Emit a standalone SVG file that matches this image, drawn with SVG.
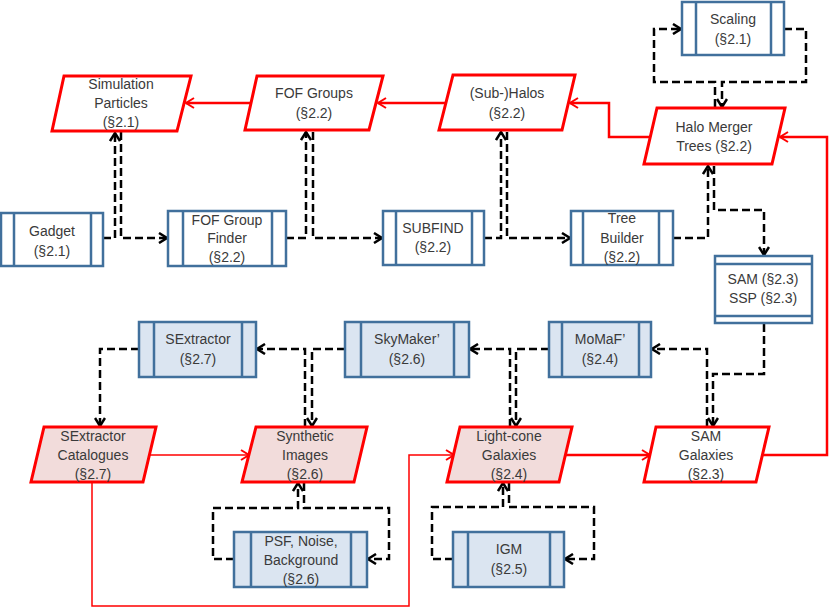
<svg xmlns="http://www.w3.org/2000/svg" width="830" height="609" viewBox="0 0 830 609">
<style>
.bx{fill:#fff;stroke:#41709c;stroke-width:2.5}
.bb{fill:#dbe5f1;stroke:#41709c;stroke-width:2.5}
.in{fill:none;stroke:#41709c;stroke-width:2.5}
.pw{fill:#fff;stroke:#ff0000;stroke-width:3}
.pp{fill:#f2dcdb;stroke:#ff0000;stroke-width:3}
text{font-family:"Liberation Sans",Arial,sans-serif;font-size:14px;fill:#3a3a3a;text-anchor:middle}
.d{fill:none;stroke:#000;stroke-width:2.5;stroke-dasharray:8,4}
.r{fill:none;stroke:#ff0000;stroke-width:2.5}
.rt{fill:none;stroke:#ff0000;stroke-width:1.5}
</style>
<defs>
<marker id="ab" markerUnits="userSpaceOnUse" viewBox="0 0 12 12" refX="10" refY="6" markerWidth="12" markerHeight="12" orient="auto">
<path d="M2,1 L10,6 L2,11" fill="none" stroke="#000" stroke-width="2.5" stroke-dasharray="none"/>
</marker>
<marker id="ar" markerUnits="userSpaceOnUse" viewBox="0 0 12 12" refX="10" refY="6" markerWidth="12" markerHeight="12" orient="auto">
<path d="M2,1 L10,6 L2,11" fill="none" stroke="#ff0000" stroke-width="2" stroke-dasharray="none"/>
</marker>
</defs>

<g id="connectors">
<path class="r" d="M251,103 H186" marker-end="url(#ar)"/>
<path class="r" d="M446,103 H378" marker-end="url(#ar)"/>
<path class="r" d="M650,137 H609 V103 H570" marker-end="url(#ar)"/>
<path class="r" d="M763,455 H827 V137 H780" marker-end="url(#ar)"/>
<path class="r" d="M566,455 H650" marker-end="url(#ar)"/>
<path class="rt" d="M149,455 H249" marker-end="url(#ar)"/>
<path class="rt" d="M92,482 V606 H409 V455 H454" marker-end="url(#ar)"/>

<path class="d" d="M103,238 H115 V133" marker-end="url(#ab)"/>
<path class="d" d="M121,132 V238 H167" marker-end="url(#ab)"/>
<path class="d" d="M286,238 H306 V132" marker-end="url(#ab)"/>
<path class="d" d="M313,132 V238 H382" marker-end="url(#ab)"/>
<path class="d" d="M484,238 H501 V132" marker-end="url(#ab)"/>
<path class="d" d="M507,132 V238 H570" marker-end="url(#ab)"/>
<path class="d" d="M673,238 H708 V166" marker-end="url(#ab)"/>
<path class="d" d="M714,166 V210 H764 V255" marker-end="url(#ab)"/>
<path class="d" d="M715,107 V82 H654 V29 H681" marker-end="url(#ab)"/>
<path class="d" d="M784,29 H806 V82 H722 V107" marker-end="url(#ab)"/>
<path class="d" d="M764,324 V374 H713 V426" marker-end="url(#ab)"/>
<path class="d" d="M707,427 V349 H652" marker-end="url(#ab)"/>
<path class="d" d="M549,349 H516 V426" marker-end="url(#ab)"/>
<path class="d" d="M510,427 V349 H470" marker-end="url(#ab)"/>
<path class="d" d="M345,349 H312 V426" marker-end="url(#ab)"/>
<path class="d" d="M305,427 V349 H257" marker-end="url(#ab)"/>
<path class="d" d="M139,349 H100 V426" marker-end="url(#ab)"/>
<path class="d" d="M304,483 V508 H389 V559 H368" marker-end="url(#ab)"/>
<path class="d" d="M234,559 H213 V508 H298 V483" marker-end="url(#ab)"/>
<path class="d" d="M509,483 V507 H594 V559 H565" marker-end="url(#ab)"/>
<path class="d" d="M453,559 H432 V507 H503 V483" marker-end="url(#ab)"/>
</g>

<g id="sim-particles">
<polygon class="pw" points="64,76 191,76 177,131 52,131"/>
<text x="121" y="89">Simulation</text><text x="121" y="108">Particles</text><text x="121" y="127">(§2.1)</text>
</g>
<g id="fof-groups">
<polygon class="pw" points="257,76 383,76 369,130 245,130"/>
<text x="314" y="98">FOF Groups</text><text x="314" y="118">(§2.2)</text>
</g>
<g id="sub-halos">
<polygon class="pw" points="453,75 575,75 562,130 439,130"/>
<text x="507" y="98">(Sub-)Halos</text><text x="507" y="118">(§2.2)</text>
</g>
<g id="halo-merger-trees">
<polygon class="pw" points="657,108 785,108 772,164 644,164"/>
<text x="714" y="132">Halo Merger</text><text x="714" y="151">Trees (§2.2)</text>
</g>
<g id="scaling">
<rect class="bx" x="682" y="2" width="102" height="53"/>
<path class="in" d="M696,2 V55 M771,2 V55"/>
<text x="733" y="24">Scaling</text><text x="733" y="44">(§2.1)</text>
</g>
<g id="gadget">
<rect class="bx" x="1" y="213" width="102" height="53"/>
<path class="in" d="M14,213 V266 M91,213 V266"/>
<text x="52" y="236">Gadget</text><text x="52" y="256">(§2.1)</text>
</g>
<g id="fof-finder">
<rect class="bx" x="168" y="211" width="118" height="55"/>
<path class="in" d="M183,211 V266 M272,211 V266"/>
<text x="227" y="225">FOF Group</text><text x="227" y="243">Finder</text><text x="227" y="262">(§2.2)</text>
</g>
<g id="subfind">
<rect class="bx" x="383" y="211" width="101" height="54"/>
<path class="in" d="M396,211 V265 M472,211 V265"/>
<text x="433" y="233">SUBFIND</text><text x="433" y="252">(§2.2)</text>
</g>
<g id="tree-builder">
<rect class="bx" x="571" y="211" width="102" height="54"/>
<path class="in" d="M583,211 V265 M659,211 V265"/>
<text x="622" y="223">Tree</text><text x="622" y="243">Builder</text><text x="622" y="262">(§2.2)</text>
</g>
<g id="sam-ssp">
<rect class="bx" x="715" y="256" width="97" height="67"/>
<path class="in" d="M715,264 H812 M715,316 H812"/>
<text x="763" y="284">SAM (§2.3)</text><text x="763" y="303">SSP (§2.3)</text>
</g>
<g id="sextractor">
<rect class="bb" x="139" y="322" width="117" height="55"/>
<path class="in" d="M154,322 V377 M242,322 V377"/>
<text x="198" y="344">SExtractor</text><text x="198" y="364">(§2.7)</text>
</g>
<g id="skymaker">
<rect class="bb" x="345" y="322" width="124" height="55"/>
<path class="in" d="M361,322 V377 M454,322 V377"/>
<text x="407" y="344">SkyMaker’</text><text x="407" y="364">(§2.6)</text>
</g>
<g id="momaf">
<rect class="bb" x="549" y="322" width="102" height="55"/>
<path class="in" d="M562,322 V377 M639,322 V377"/>
<text x="600" y="344">MoMaF’</text><text x="600" y="364">(§2.4)</text>
</g>
<g id="sextractor-catalogues">
<polygon class="pp" points="44,427 156,427 143,482 31,482"/>
<text x="93" y="441">SExtractor</text><text x="93" y="460">Catalogues</text><text x="93" y="479">(§2.7)</text>
</g>
<g id="synthetic-images">
<polygon class="pp" points="256,427 367,427 354,482 242,482"/>
<text x="305" y="441">Synthetic</text><text x="305" y="460">Images</text><text x="305" y="479">(§2.6)</text>
</g>
<g id="lightcone-galaxies">
<polygon class="pp" points="460,427 572,427 559,482 447,482"/>
<text x="509" y="441">Light-cone</text><text x="509" y="460">Galaxies</text><text x="509" y="479">(§2.4)</text>
</g>
<g id="sam-galaxies">
<polygon class="pw" points="656,427 769,427 756,482 644,482"/>
<text x="706" y="441">SAM</text><text x="706" y="460">Galaxies</text><text x="706" y="479">(§2.3)</text>
</g>
<g id="psf">
<rect class="bb" x="234" y="532" width="133" height="55"/>
<path class="in" d="M251,532 V587 M351,532 V587"/>
<text x="301" y="546">PSF, Noise,</text><text x="301" y="565">Background</text><text x="301" y="584">(§2.6)</text>
</g>
<g id="igm">
<rect class="bb" x="453" y="532" width="111" height="55"/>
<path class="in" d="M468,532 V587 M550,532 V587"/>
<text x="509" y="554">IGM</text><text x="509" y="574">(§2.5)</text>
</g>
</svg>
